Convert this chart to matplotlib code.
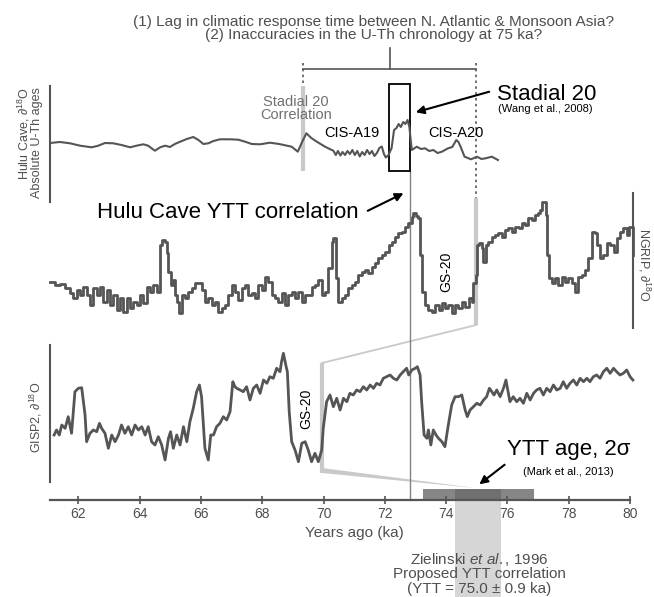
import numpy as np
import matplotlib.pyplot as plt

plt.rcParams['font.family'] = ['Liberation Sans', 'DejaVu Sans']
plt.rcParams['mathtext.fontset'] = 'custom'
plt.rcParams['mathtext.rm'] = 'Liberation Sans'
plt.rcParams['mathtext.it'] = 'Liberation Sans:italic'

# ---- records (age in ka, relative d18O in arbitrary units)
hulu_ka = [61.08, 61.40, 61.73, 62.06, 62.44, 62.65, 62.87, 63.14, 63.41, 63.69,
           63.90, 64.12, 64.28, 64.39, 64.50, 64.67, 64.83, 64.99, 65.15, 65.32,
           65.54, 65.75, 65.92, 66.08, 66.24, 66.41, 66.62, 66.95, 67.22, 67.44,
           67.66, 67.93, 68.25, 68.55, 68.96, 69.16, 69.30, 69.44, 69.60, 69.78,
           70.05, 70.20, 70.32, 70.40, 70.47, 70.55, 70.62, 70.70, 70.78, 70.86,
           70.94, 71.02, 71.10, 71.18, 71.26, 71.34, 71.42, 71.50, 71.58, 71.66,
           71.74, 71.82, 71.90, 71.97, 72.03, 72.12, 72.22, 72.30, 72.38, 72.45,
           72.52, 72.60, 72.67, 72.74, 72.80, 72.84, 72.88, 73.04, 73.18, 73.31,
           73.45, 73.58, 73.72, 73.86, 74.06, 74.20, 74.33, 74.40, 74.47, 74.60,
           74.81, 75.01, 75.15, 75.28, 75.49, 75.69]
hulu_val = [32.0, 33.0, 31.7, 29.3, 27.7, 29.3, 32.0, 31.7, 30.0, 27.7,
            29.3, 30.7, 29.3, 26.7, 24.3, 27.7, 29.3, 28.0, 31.0, 33.3,
            36.0, 38.0, 35.0, 31.0, 31.7, 34.0, 35.7, 35.7, 35.3, 33.3,
            31.0, 30.7, 32.3, 31.0, 28.3, 23.3, 33.0, 41.7, 37.0, 33.3,
            28.3, 26.0, 24.3, 20.0, 24.0, 19.5, 23.0, 20.0, 24.0, 21.0,
            25.0, 20.0, 24.0, 18.5, 23.0, 20.0, 25.0, 21.0, 24.0, 19.0,
            22.0, 27.0, 28.5, 21.0, 17.5, 20.0, 27.0, 45.0, 47.0, 51.0,
            48.0, 53.0, 51.0, 55.0, 48.0, 36.0, 25.0, 28.3, 26.0, 26.7,
            24.0, 25.0, 22.0, 23.3, 26.7, 28.0, 35.0, 33.0, 28.3, 18.3,
            15.7, 18.3, 16.0, 16.7, 18.3, 15.0]

ngrip_ka = [61.08, 61.24, 61.40, 61.57, 61.73, 61.84, 61.95, 62.06, 62.16, 62.27,
            62.38, 62.49, 62.60, 62.71, 62.82, 62.93, 63.03, 63.14, 63.25, 63.36,
            63.47, 63.58, 63.69, 63.80, 63.90, 64.01, 64.12, 64.23, 64.34, 64.45,
            64.56, 64.67, 64.72, 64.83, 64.88, 64.94, 65.01, 65.08, 65.15, 65.23,
            65.30, 65.37, 65.48, 65.59, 65.70, 65.81, 65.92, 66.02, 66.13, 66.24,
            66.35, 66.46, 66.57, 66.68, 66.79, 66.89, 67.00, 67.11, 67.22, 67.33,
            67.44, 67.55, 67.66, 67.76, 67.87, 67.98, 68.09, 68.20, 68.31, 68.42,
            68.53, 68.63, 68.74, 68.85, 68.96, 69.07, 69.18, 69.29, 69.40, 69.50,
            69.61, 69.72, 69.83, 69.94, 70.05, 70.16, 70.27, 70.32, 70.41, 70.48,
            70.59, 70.70, 70.81, 70.92, 71.03, 71.14, 71.25, 71.35, 71.46, 71.57,
            71.68, 71.79, 71.90, 72.01, 72.12, 72.22, 72.33, 72.44, 72.55, 72.66,
            72.77, 72.88, 72.93, 73.02, 73.09, 73.15, 73.20, 73.31, 73.42, 73.53,
            73.64, 73.75, 73.86, 73.96, 74.07, 74.18, 74.29, 74.40, 74.51, 74.62,
            74.73, 74.83, 74.89, 74.96, 75.02, 75.08, 75.16, 75.21, 75.30, 75.38,
            75.49, 75.60, 75.70, 75.81, 75.92, 76.03, 76.14, 76.25, 76.36, 76.47,
            76.57, 76.68, 76.79, 76.90, 77.01, 77.06, 77.14, 77.19, 77.26, 77.30,
            77.34, 77.44, 77.55, 77.66, 77.77, 77.88, 77.99, 78.10, 78.21, 78.31,
            78.42, 78.53, 78.64, 78.75, 78.86, 78.91, 79.02, 79.13, 79.24, 79.35,
            79.46, 79.57, 79.67, 79.78, 79.89, 79.95, 80.05, 80.09]
ngrip_val = [47.7, 45.0, 45.7, 41.7, 36.7, 31.7, 40.0, 35.0, 43.3, 35.0,
             25.0, 41.7, 35.0, 43.3, 28.3, 40.0, 25.0, 35.0, 20.0, 31.7,
             18.3, 31.7, 21.7, 28.3, 25.0, 35.0, 26.7, 43.3, 38.3, 45.0,
             38.3, 85.0, 90.0, 88.3, 76.7, 58.3, 45.0, 50.0, 35.0, 28.3,
             16.7, 35.0, 31.7, 38.3, 41.7, 46.7, 46.7, 40.0, 28.3, 31.7,
             25.0, 28.3, 18.3, 21.7, 25.0, 35.0, 45.0, 38.3, 30.0, 41.7,
             45.0, 35.0, 36.7, 31.7, 45.0, 40.0, 53.3, 48.3, 35.0, 31.7,
             28.3, 36.7, 25.0, 35.0, 38.3, 31.7, 38.3, 28.3, 35.0, 35.0,
             43.3, 45.0, 50.0, 35.0, 38.3, 61.7, 88.3, 92.3, 51.7, 28.3,
             31.7, 35.0, 41.7, 45.0, 48.3, 55.0, 58.3, 60.0, 56.7, 63.3,
             66.7, 71.7, 75.0, 78.3, 85.0, 88.3, 93.3, 96.7, 98.3, 103.3,
             106.7, 113.3, 116.7, 114.3, 111.7, 75.0, 38.3, 25.0, 20.0, 18.3,
             25.0, 20.0, 26.7, 21.7, 25.0, 16.7, 25.0, 21.7, 28.3, 23.3,
             31.7, 28.3, 46.7, 55.0, 85.0, 86.7, 81.7, 68.3, 85.0, 88.3,
             93.3, 95.0, 96.7, 93.3, 100.0, 101.7, 98.3, 103.3, 101.7, 106.7,
             105.0, 111.7, 110.0, 115.0, 116.7, 120.0, 128.3, 128.3, 115.0, 75.0,
             51.7, 46.7, 51.7, 45.0, 53.3, 48.3, 51.7, 46.7, 38.3, 53.3,
             55.0, 60.0, 71.7, 98.3, 96.7, 85.0, 71.7, 75.0, 86.7, 85.0,
             78.3, 91.7, 98.3, 101.7, 95.0, 103.3, 103.3, 75.0]

gisp2_ka = [61.21, 61.29, 61.38, 61.46, 61.57, 61.67, 61.78, 61.89, 62.00, 62.11,
            62.22, 62.27, 62.38, 62.49, 62.60, 62.69, 62.76, 62.87, 62.98, 63.09,
            63.20, 63.31, 63.41, 63.52, 63.63, 63.74, 63.85, 63.96, 64.07, 64.18,
            64.28, 64.39, 64.50, 64.61, 64.72, 64.83, 64.94, 65.01, 65.10, 65.21,
            65.32, 65.43, 65.54, 65.64, 65.75, 65.86, 65.95, 66.02, 66.08, 66.13,
            66.24, 66.32, 66.41, 66.51, 66.62, 66.73, 66.84, 66.95, 67.04, 67.11,
            67.17, 67.28, 67.38, 67.49, 67.60, 67.71, 67.82, 67.93, 68.04, 68.15,
            68.25, 68.36, 68.47, 68.58, 68.63, 68.69, 68.78, 68.82, 68.88, 68.96,
            69.07, 69.18, 69.29, 69.40, 69.50, 69.61, 69.72, 69.83, 69.94, 69.99,
            70.10, 70.21, 70.32, 70.43, 70.54, 70.65, 70.76, 70.86, 70.97, 71.08,
            71.19, 71.30, 71.41, 71.52, 71.63, 71.73, 71.84, 71.95, 72.06, 72.17,
            72.28, 72.39, 72.50, 72.60, 72.71, 72.78, 72.88, 72.99, 73.06, 73.15,
            73.20, 73.28, 73.37, 73.42, 73.50, 73.58, 73.67, 73.75, 73.86, 73.96,
            74.07, 74.18, 74.29, 74.40, 74.51, 74.62, 74.69, 74.78, 74.89, 75.00,
            75.11, 75.22, 75.32, 75.41, 75.49, 75.56, 75.65, 75.76, 75.87, 75.95,
            76.03, 76.08, 76.19, 76.30, 76.41, 76.52, 76.63, 76.74, 76.85, 76.95,
            77.06, 77.17, 77.28, 77.39, 77.50, 77.61, 77.72, 77.82, 77.93, 78.04,
            78.15, 78.26, 78.37, 78.48, 78.59, 78.69, 78.80, 78.91, 79.02, 79.13,
            79.24, 79.35, 79.46, 79.56, 79.67, 79.78, 79.89, 80.00, 80.09]
gisp2_val = [50.0, 55.0, 50.0, 60.0, 56.7, 68.3, 51.7, 93.3, 96.7, 97.3,
             70.0, 43.3, 51.7, 55.0, 53.3, 61.7, 56.7, 51.7, 36.7, 50.0,
             43.3, 50.0, 60.0, 51.7, 58.3, 50.0, 60.0, 55.0, 58.3, 50.0,
             58.3, 43.3, 40.0, 48.3, 40.0, 25.0, 46.7, 53.3, 36.7, 50.0,
             40.0, 58.3, 43.3, 63.3, 76.7, 93.3, 100.0, 88.3, 60.0, 36.7,
             25.0, 50.0, 50.0, 58.3, 61.7, 68.3, 65.0, 73.3, 103.3, 98.3,
             96.7, 95.0, 93.3, 98.3, 85.0, 96.7, 100.0, 91.7, 105.0, 101.7,
             108.3, 106.7, 116.7, 113.3, 123.3, 131.7, 118.3, 113.3, 73.3, 43.3,
             35.0, 23.3, 41.7, 43.3, 35.0, 23.3, 31.7, 23.3, 35.0, 56.7,
             83.3, 90.0, 78.3, 86.7, 75.0, 86.7, 83.3, 91.7, 90.0, 95.0,
             93.3, 98.3, 95.0, 100.0, 96.7, 101.7, 100.0, 106.7, 108.3, 110.0,
             106.7, 105.0, 110.0, 113.3, 116.7, 110.0, 115.0, 116.7, 118.3, 110.0,
             83.3, 50.0, 46.7, 55.0, 40.0, 55.0, 50.0, 46.7, 43.3, 38.3,
             60.0, 80.0, 88.3, 88.3, 90.0, 75.0, 68.3, 75.0, 78.3, 81.7,
             80.0, 85.0, 88.3, 96.7, 93.3, 90.0, 95.0, 88.3, 96.7, 105.0,
             91.7, 83.3, 88.3, 83.3, 86.7, 81.7, 91.7, 85.0, 91.7, 95.0,
             96.7, 90.0, 96.7, 93.3, 100.0, 95.0, 96.7, 103.3, 96.7, 101.7,
             105.0, 100.0, 106.7, 103.3, 106.7, 103.3, 108.3, 110.0, 106.7, 113.3,
             116.7, 111.7, 116.7, 113.3, 110.0, 111.7, 115.0, 108.3, 105.0]

age_ticks = [62, 64, 66, 68, 70, 72, 74, 76, 78, 80]

# key ages (ka)
stadial20_hulu = 69.33      # stadial 20 correlation at Hulu
gs20_ngrip_end = 74.98      # end of GS-20 in NGRIP
gs20_gisp2_end = 69.95      # end of GS-20 in GISP2
hulu_box = (72.15, 72.82)   # Wang et al. 2008 stadial 20
ytt_corr = 72.81            # Hulu Cave YTT correlation
ytt_age = 75.05             # Mark et al. 2013
ytt_2sigma = 1.82
zielinski_half = 0.75       # Zielinski et al. 1996 band
bracket_mid = 72.17

W, H = 654, 597
X0, X1 = 59.445, 80.78
GRAY = '#555555'
TXT = '#4f4f4f'
LIGHT = '#c9c9c9'

fig = plt.figure(figsize=(W / 100, H / 100), dpi=100)
ax = fig.add_axes([0, 0, 1, 1])
ax.set_xlim(X0, X1)
ax.set_ylim(H, 0)
ax.axis('off')


def panel(base):
    a = fig.add_axes([0, 0, 1, 1])
    a.set_xlim(X0, X1)
    a.set_ylim(base - H, base)
    a.axis('off')
    a.patch.set_alpha(0)
    return a


ax_hulu = panel(175)
ax_ngrip = panel(330)
ax_gisp = panel(485)

ax_hulu.plot(hulu_ka, hulu_val, color=GRAY, lw=1.5)
ax_ngrip.plot(ngrip_ka, ngrip_val, color=GRAY, lw=2.0, drawstyle='steps-post')
ax_gisp.plot(gisp2_ka, gisp2_val, color=GRAY, lw=2.0)

# side axis lines
ax.plot([61.08, 61.08], [86, 202], color=GRAY, lw=1.5)
ax.plot([80.10, 80.10], [193, 328], color=GRAY, lw=1.5)
ax.plot([61.08, 61.08], [345, 482], color=GRAY, lw=1.5)

lab = r'$\partial^{18}$O'
ax.text(60.23, 87, 'Hulu Cave, ' + lab, rotation=90, ha='center', va='top',
        fontsize=9, color=TXT)
ax.text(60.66, 87, 'Absolute U-Th ages', rotation=90, ha='center', va='top',
        fontsize=9, color=TXT)
ax.text(80.46, 265, 'NGRIP, ' + lab, rotation=-90, ha='center', va='center',
        fontsize=9, color=TXT)
ax.text(60.63, 417, 'GISP2, ' + lab, rotation=90, ha='center', va='center',
        fontsize=9, color=TXT)

# question bracket
ax.text(71.62, 22, '(1) Lag in climatic response time between N. Atlantic & Monsoon Asia?',
        ha='center', va='center', fontsize=11.1, color=TXT)
ax.text(71.62, 35, '(2) Inaccuracies in the U-Th chronology at 75 ka?',
        ha='center', va='center', fontsize=11.1, color=TXT)
ax.plot([stadial20_hulu, gs20_ngrip_end], [69, 69], color=GRAY, lw=1.2)
ax.plot([bracket_mid, bracket_mid], [48, 69], color=GRAY, lw=1.2)
ax.plot([stadial20_hulu] * 2, [63, 86], color=GRAY, lw=1.2, ls=(0, (1.5, 2)))
ax.plot([gs20_ngrip_end] * 2, [63, 198], color=GRAY, lw=1.2, ls=(0, (1.5, 2)))

# correlation guides
ax.plot([stadial20_hulu] * 2, [86, 171], color=LIGHT, lw=3, solid_capstyle='butt', zorder=1)
ax.plot([gs20_ngrip_end] * 2, [198, 325], color=LIGHT, lw=3, solid_capstyle='butt', zorder=1)
ax.plot([gs20_ngrip_end, gs20_gisp2_end], [325, 363], color=LIGHT, lw=1.3, zorder=1)
ax.plot([gs20_gisp2_end] * 2, [363, 473], color=LIGHT, lw=3, solid_capstyle='butt', zorder=1)
ax.fill([gs20_gisp2_end, 74.95, gs20_gisp2_end], [468, 488, 473], color=LIGHT, lw=0, zorder=1)

ax.add_patch(plt.Rectangle((hulu_box[0], 84), hulu_box[1] - hulu_box[0], 87,
                           fill=False, ec='black', lw=1.3, zorder=5))
ax.plot([ytt_corr, ytt_corr], [171, 500], color='#808080', lw=1, zorder=1)

# YTT age bars
ax.bar(ytt_age, 11, width=2 * ytt_2sigma, bottom=488.5, color='#868686', zorder=2)
ax.bar(ytt_age, H - 488.5, width=2 * zielinski_half, bottom=488.5, color='black',
       alpha=0.16, lw=0, zorder=3)

# labels
ax.text(69.1, 102, 'Stadial 20', ha='center', va='center', fontsize=10.5, color='#707070')
ax.text(69.1, 115, 'Correlation', ha='center', va='center', fontsize=10.5, color='#707070')
ax.text(70.93, 133, 'CIS-A19', ha='center', va='center', fontsize=10.5, color='black')
ax.text(74.32, 133, 'CIS-A20', ha='center', va='center', fontsize=10.5, color='black')
ax.text(77.28, 95, 'Stadial 20', ha='center', va='center', fontsize=16, color='black')
ax.text(77.22, 109, '(Wang et al., 2008)', ha='center', va='center', fontsize=8, color='black')
ax.annotate('', xy=(72.92, 113), xytext=(75.49, 91),
            arrowprops=dict(arrowstyle='-|>', color='black', lw=1.5, mutation_scale=12))
ax.text(66.89, 213, 'Hulu Cave YTT correlation', ha='center', va='center',
        fontsize=16, color='black')
ax.annotate('', xy=(72.69, 192), xytext=(71.36, 212),
            arrowprops=dict(arrowstyle='-|>', color='black', lw=1.5, mutation_scale=12))
ax.text(74.0, 272, 'GS-20', rotation=90, ha='center', va='center', fontsize=10)
ax.text(69.45, 409, 'GS-20', rotation=90, ha='center', va='center', fontsize=10)
ax.text(78.0, 450, 'YTT age, 2σ', ha='center', va='center', fontsize=16, color='black')
ax.text(78.0, 472, '(Mark et al., 2013)', ha='center', va='center', fontsize=8, color='black')
ax.annotate('', xy=(75.01, 486), xytext=(75.98, 463),
            arrowprops=dict(arrowstyle='-|>', color='black', lw=1.5, mutation_scale=12))

ax.text(75.07, 560, r'Zielinski $\mathit{et\ al.}$, 1996', ha='center', va='center',
        fontsize=11, color=TXT)
ax.text(75.07, 574, 'Proposed YTT correlation', ha='center', va='center',
        fontsize=11, color=TXT)
ax.text(75.07, 589, '(YTT = 75.0 ± 0.9 ka)', ha='center', va='center',
        fontsize=11, color=TXT)
ax.text(71.0, 533, 'Years ago (ka)', ha='center', va='center', fontsize=11, color=TXT)

# time axis
xa = fig.add_axes([(61.08 - X0) / (X1 - X0), (H - 500) / H,
                   (80.0 - 61.08) / (X1 - X0), 0.0005])
xa.set_xlim(61.08, 80.0)
xa.patch.set_alpha(0)
for s in ['top', 'left', 'right']:
    xa.spines[s].set_visible(False)
xa.spines['bottom'].set_color(GRAY)
xa.spines['bottom'].set_linewidth(1.6)
xa.set_yticks([])
xa.set_xticks(age_ticks)
xa.tick_params(axis='x', direction='inout', length=6, width=1.2, color=GRAY,
               labelsize=10, labelcolor=TXT, pad=2)

fig.savefig('out.png', dpi=100)
